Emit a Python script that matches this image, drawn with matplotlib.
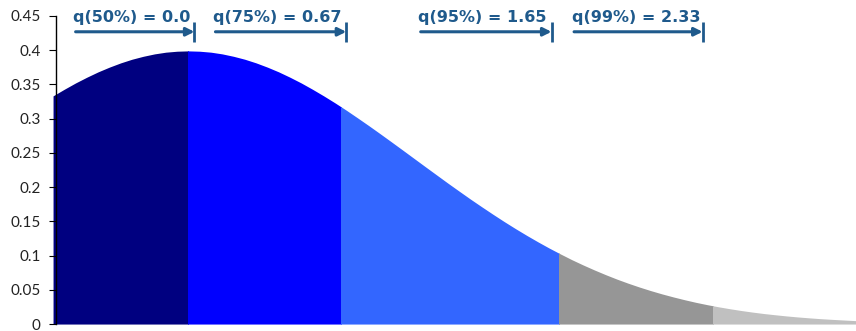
import numpy as np
import matplotlib
matplotlib.use("Agg")
import matplotlib.pyplot as plt
from matplotlib.patches import Rectangle

# density curve (x step 0.05, from -0.6 to 3.0)
x = np.linspace(-0.6, 3.0, 73)
density = [
    0.3332, 0.3429, 0.3521, 0.3605, 0.3683, 0.3752, 0.3814, 0.3867, 0.3910, 0.3945,
    0.3970, 0.3984, 0.3989, 0.3984, 0.3970, 0.3945, 0.3910, 0.3867, 0.3814, 0.3752,
    0.3683, 0.3605, 0.3521, 0.3429, 0.3332, 0.3230, 0.3123, 0.3011, 0.2897, 0.2780,
    0.2661, 0.2541, 0.2420, 0.2299, 0.2179, 0.2059, 0.1942, 0.1826, 0.1714, 0.1604,
    0.1497, 0.1394, 0.1295, 0.1200, 0.1109, 0.1023, 0.0940, 0.0863, 0.0790, 0.0721,
    0.0656, 0.0596, 0.0540, 0.0488, 0.0440, 0.0396, 0.0355, 0.0317, 0.0283, 0.0252,
    0.0224, 0.0198, 0.0175, 0.0154, 0.0136, 0.0119, 0.0104, 0.0091, 0.0079, 0.0069,
    0.0060, 0.0051, 0.0044,
]

quantiles = [0.0, 0.6745, 1.6449, 2.3263]
q_labels = ["q(50%) = 0.0", "q(75%) = 0.67", "q(95%) = 1.65", "q(99%) = 2.33"]
band_colors = ["#000080", "#0000FF", "#3366FF", "#969696", "#C0C0C0"]

yticks = [0, 0.05, 0.1, 0.15, 0.2, 0.25, 0.3, 0.35, 0.4, 0.45]
ytick_labels = ["0", "0.05", "0.1", "0.15", "0.2", "0.25", "0.3", "0.35", "0.4", "0.45"]

fig = plt.figure(figsize=(8.56, 3.31), dpi=100)
ax = fig.add_axes([0.0654, 0.021, 0.9346, 0.931])

xmin, xmax = -0.587, 2.96
edges = [-10] + quantiles + [10]
for i, c in enumerate(band_colors):
    poly = ax.fill_between(x, density, 0, color=c, linewidth=0)
    clip = Rectangle((edges[i], 0), edges[i + 1] - edges[i], 1, transform=ax.transData)
    poly.set_clip_path(clip)

ax.set_xlim(xmin, xmax)
ax.set_ylim(0, 0.45)

for s in ["top", "right", "bottom"]:
    ax.spines[s].set_visible(False)
ax.spines["left"].set_linewidth(1.0)
ax.spines["left"].set_color("black")
ax.set_xticks([])
ax.set_yticks(yticks)
ax.set_yticklabels(ytick_labels, fontsize=11, family="Lato", color="#222222")
ax.tick_params(axis="y", direction="out", length=5, width=0.8, pad=6)

# arrow layout (where the bar marks sit, and where the arrows start)
arrow_end = [0.027, 0.70, 1.61, 2.28]
arrow_start = [-0.50, 0.12, 1.03, 1.71]
arrow_col = "#1F5A8C"
for xe, xs, lab in zip(arrow_end, arrow_start, q_labels):
    ax.annotate("", xy=(xe, 0.4268), xytext=(xs, 0.4268),
                arrowprops=dict(arrowstyle="-|>", color=arrow_col, lw=2.2,
                                mutation_scale=12, shrinkA=0, shrinkB=0),
                annotation_clip=False)
    ax.plot([xe, xe], [0.412, 0.441], color=arrow_col, lw=2, clip_on=False,
            solid_capstyle="butt")
    ax.text(xs - 0.01, 0.447, lab, ha="left", va="center", fontsize=11.5,
            fontweight="bold", family="DejaVu Sans", color=arrow_col, clip_on=False)

fig.savefig("out.png", dpi=100)
